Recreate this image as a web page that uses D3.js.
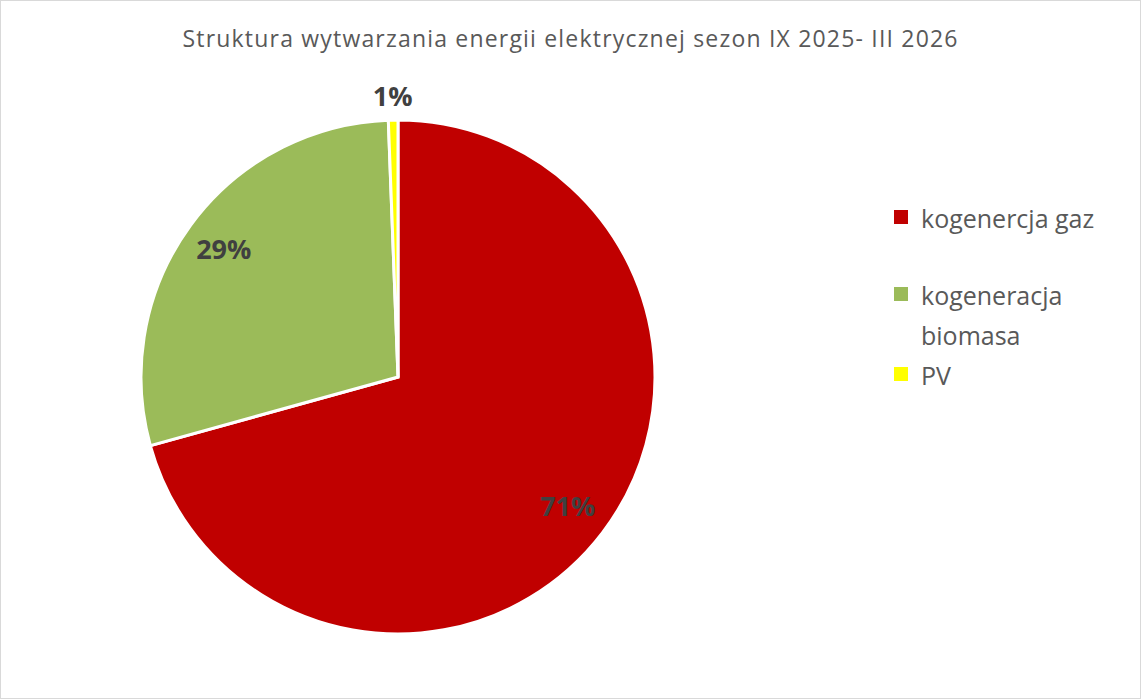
<!DOCTYPE html>
<html>
<head>
<meta charset="utf-8">
<script src="https://cdn.jsdelivr.net/npm/d3@7"></script>
<style>
  body { margin: 0; background: #fff; }
  text { font-family: "Open Sans", sans-serif; }
</style>
</head>
<body>
<div id="chart-container"></div>
<script>
// data
var categories = ["kogenercja gaz", "kogeneracja biomasa", "PV"];
var shares = [70.7, 28.7, 0.6];
var pctLabels = ["71%", "29%", "1%"];
var colors = ["#c00000", "#9bbb59", "#ffff00"];

var width = 1141, height = 699;
var cx = 398, cy = 377, radius = 257;

var svg = d3.select("#chart-container")
    .append("svg")
    .attr("width", width)
    .attr("height", height);

// chart frame
svg.append("rect")
    .attr("x", 0.5).attr("y", 0.5)
    .attr("width", width - 1).attr("height", height - 1)
    .attr("fill", "#fff")
    .attr("stroke", "#d9d9d9");

// title (Excel spreads it out a bit, so stretch the spacing)
svg.append("text")
    .attr("x", 570)
    .attr("y", 47)
    .attr("text-anchor", "middle")
    .attr("textLength", 775)
    .attr("lengthAdjust", "spacing")
    .style("font-size", "23px")
    .style("fill", "#595959")
    .text("Struktura wytwarzania energii elektrycznej sezon IX 2025- III 2026");

var data = categories.map(function(c, i) {
    return { name: c, value: shares[i], label: pctLabels[i], color: colors[i] };
});

var pie = d3.pie().sort(null).value(function(d) { return d.value; });
var arc = d3.arc().innerRadius(0).outerRadius(radius);

var g = svg.append("g")
    .attr("transform", "translate(" + cx + "," + cy + ")");

var arcs = pie(data);

g.selectAll(".slice")
    .data(arcs)
    .enter().append("path")
    .attr("class", "slice")
    .attr("d", arc)
    .attr("fill", function(d) { return d.data.color; })
    .attr("stroke", "#fff")
    .attr("stroke-width", 3)
    .attr("stroke-linejoin", "miter");

// data labels: inside for big slices, outside for the tiny one
var labelPos = [0.83, 0.84, 1.09];
g.selectAll(".pct")
    .data(arcs)
    .enter().append("text")
    .attr("class", "pct")
    .attr("transform", function(d, i) {
        var a = (d.startAngle + d.endAngle) / 2;
        var r = radius * labelPos[i];
        return "translate(" + (r * Math.sin(a)) + "," + (-r * Math.cos(a)) + ")";
    })
    .attr("text-anchor", "middle")
    .attr("dy", "0.35em")
    .style("font-size", "27px")
    .style("font-weight", "bold")
    .style("fill", "#404040")
    .text(function(d) { return d.data.label; });

// legend
var legendRows = [
    { lines: ["kogenercja gaz"], y: 228 },
    { lines: ["kogeneracja", "biomasa"], y: 305 },
    { lines: ["PV"], y: 385 }
];

var legend = svg.append("g");
legendRows.forEach(function(row, i) {
    legend.append("rect")
        .attr("x", 894)
        .attr("y", row.y - 18)
        .attr("width", 14)
        .attr("height", 14)
        .attr("fill", colors[i]);
    var t = legend.append("text")
        .attr("x", 921)
        .attr("y", row.y)
        .style("font-size", "25px")
        .style("fill", "#595959");
    row.lines.forEach(function(line, j) {
        t.append("tspan")
            .attr("x", 921)
            .attr("dy", j === 0 ? 0 : 40)
            .text(line);
    });
});
</script>
</body>
</html>
